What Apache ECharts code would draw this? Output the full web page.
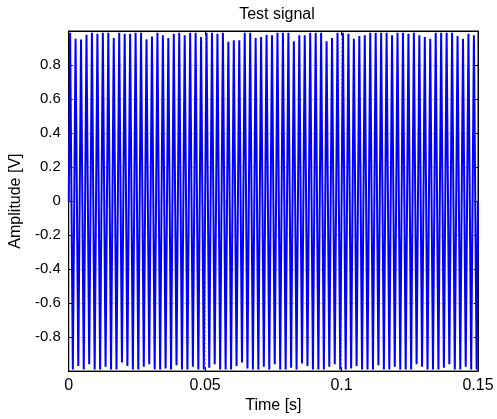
<!DOCTYPE html>
<html>
<head>
<meta charset="utf-8">
<script src="https://cdn.jsdelivr.net/npm/echarts@6/dist/echarts.min.js"></script>
<style>html,body{margin:0;padding:0;background:#fff}#c{width:497px;height:419px}</style>
</head>
<body>
<div id="c"></div>
<script>
// Extremum times (s) and values (V)
var peakTimes = [0.0005,0.0025,0.0045,0.0065,0.0085,0.0105,0.0125,0.0145,0.0165,0.0185,
0.0205,0.0225,0.0245,0.0265,0.0285,0.0305,0.0325,0.0345,0.0365,0.0385,
0.0405,0.0425,0.0445,0.0465,0.0485,0.0505,0.0525,0.0545,0.0565,0.0585,
0.0605,0.0625,0.0645,0.0665,0.0685,0.0705,0.0725,0.0745,0.0765,0.0785,
0.0805,0.0825,0.0845,0.0865,0.0885,0.0905,0.0925,0.0945,0.0965,0.0985,
0.1005,0.1025,0.1045,0.1065,0.1085,0.1105,0.1125,0.1145,0.1165,0.1185,
0.1205,0.1225,0.1245,0.1265,0.1285,0.1305,0.1325,0.1345,0.1365,0.1385,
0.1405,0.1425,0.1445,0.1465,0.1485];
var peakValues = [0.99,0.955,0.95,0.978,0.99,0.984,0.99,0.99,0.959,0.99,
0.984,0.984,0.99,0.99,0.951,0.967,0.99,0.975,0.959,0.984,
0.99,0.975,0.99,0.99,0.965,0.99,0.99,0.984,0.99,0.936,
0.945,0.945,0.99,0.99,0.959,0.965,0.978,0.975,
0.99,0.99,0.99,0.94,0.975,0.975,0.99,0.99,0.99,0.94,
0.959,0.99,0.99,0.984,0.955,0.97,0.975,0.99,0.99,0.99,
0.99,0.975,0.99,0.99,0.984,0.99,0.975,0.965,0.955,0.99,
0.99,0.99,0.99,0.97,0.955,0.984,0.975];
var troughTimes = [0.0015,0.0035,0.0055,0.0075,0.0095,0.0115,0.0135,0.0155,0.0175,0.0195,
0.0215,0.0235,0.0255,0.0275,0.0295,0.0315,0.0335,0.0355,0.0375,0.0395,
0.0415,0.0435,0.0455,0.0475,0.0495,0.0515,0.0535,0.0555,0.0575,0.0595,
0.0615,0.0635,0.0655,0.0675,0.0695,0.0715,0.0735,0.0755,0.0775,0.0795,
0.0815,0.0835,0.0855,0.0875,0.0895,0.0915,0.0935,0.0955,0.0975,0.0995,
0.1015,0.1035,0.1055,0.1075,0.1095,0.1115,0.1135,0.1155,0.1175,0.1195,
0.1215,0.1235,0.1255,0.1275,0.1295,0.1315,0.1335,0.1355,0.1375,0.1395,
0.1415,0.1435,0.1455,0.1475,0.1495];
var troughValues = [-0.99,-0.97,-0.99,-0.96,-0.99,-0.99,-0.975,-0.99,-0.99,-0.95,
-0.97,-0.99,-0.99,-0.975,-0.96,-0.99,-0.99,-0.985,-0.99,-0.965,
-0.99,-0.99,-0.975,-0.99,-0.99,-0.98,-0.96,-0.99,-0.99,-0.99,
-0.97,-0.95,-0.985,-0.99,-0.99,-0.975,-0.99,-0.96,
-0.99,-0.99,-0.98,-0.99,-0.955,-0.97,-0.99,-0.99,-0.99,-0.975,
-0.96,-0.99,-0.99,-0.985,-0.97,-0.99,-0.99,-0.99,-0.965,-0.99,
-0.99,-0.975,-0.99,-0.99,-0.99,-0.96,-0.975,-0.99,-0.99,-0.99,
-0.98,-0.96,-0.99,-0.99,-0.975,-0.99,-0.99];
var startPoint = [0, 0];
var endPoint = [0.15, 0];
var xTicks = [0, 0.05, 0.1, 0.15];

var data = [startPoint];
for (var i = 0; i < peakTimes.length; i++) {
  data.push([peakTimes[i], peakValues[i]]);
  if (i < troughTimes.length) data.push([troughTimes[i], troughValues[i]]);
}
data.push(endPoint);

var chart = echarts.init(document.getElementById('c'), null, {renderer: 'canvas'});
var FONT = 'Liberation Sans, Arial, sans-serif';
function yfmt(v) {
  if (Math.abs(v) > 0.99) return '';
  if (Math.abs(v) < 1e-9) return '0';
  return (Math.round(v * 10) / 10).toString();
}
function xfmt(v) {
  if (Math.abs(v) < 1e-9) return '0';
  return (Math.round(v * 100) / 100).toString();
}
var gridLine = {show: true, lineStyle: {color: '#9a9a9a', type: [1, 3], width: 1}};
chart.setOption({
  animation: false,
  backgroundColor: '#fff',
  title: {
    text: 'Test signal', left: 272, top: 2, textAlign: 'center',
    textStyle: {fontFamily: FONT, fontSize: 16, fontWeight: 'normal', color: '#000'}
  },
  grid: {left: 66, right: 19, top: 31, bottom: 44, show: true, borderColor: '#000', borderWidth: 1},
  xAxis: [{
    type: 'value', min: 0, max: 0.15, interval: 0.05,
    name: 'Time [s]', nameLocation: 'middle', nameGap: 23,
    nameTextStyle: {fontFamily: FONT, fontSize: 16, color: '#000'},
    axisLine: {show: true, onZero: false, lineStyle: {color: '#000'}},
    axisTick: {show: true, inside: true, length: 4, lineStyle: {color: '#000'}},
    axisLabel: {formatter: xfmt, fontFamily: FONT, fontSize: 16, color: '#000', margin: 6},
    splitLine: gridLine
  }, {
    type: 'value', min: 0, max: 0.15, interval: 0.05, position: 'top',
    axisLine: {show: true, onZero: false, lineStyle: {color: '#000'}},
    axisTick: {show: true, inside: true, length: 4, lineStyle: {color: '#000'}},
    axisLabel: {show: false}, splitLine: {show: false}
  }],
  yAxis: [{
    type: 'value', min: -1, max: 1, interval: 0.2,
    name: 'Amplitude [V]', nameLocation: 'middle', nameGap: 40,
    nameTextStyle: {fontFamily: FONT, fontSize: 16, color: '#000'},
    axisLine: {show: true, onZero: false, lineStyle: {color: '#000'}},
    axisTick: {show: true, inside: true, length: 4, lineStyle: {color: '#000'}},
    axisLabel: {formatter: yfmt, fontFamily: FONT, fontSize: 15, color: '#000', margin: 8},
    splitLine: gridLine
  }, {
    type: 'value', min: -1, max: 1, interval: 0.2, position: 'right',
    axisLine: {show: true, onZero: false, lineStyle: {color: '#000'}},
    axisTick: {show: true, inside: true, length: 4, lineStyle: {color: '#000'}},
    axisLabel: {show: false}, splitLine: {show: false}
  }],
  series: [{
    type: 'line', data: data, showSymbol: false, symbol: 'none',
    sampling: null, clip: true, xAxisIndex: 0, yAxisIndex: 0,
    lineStyle: {color: '#0000ff', width: 2}
  }]
});
</script>
</body>
</html>
